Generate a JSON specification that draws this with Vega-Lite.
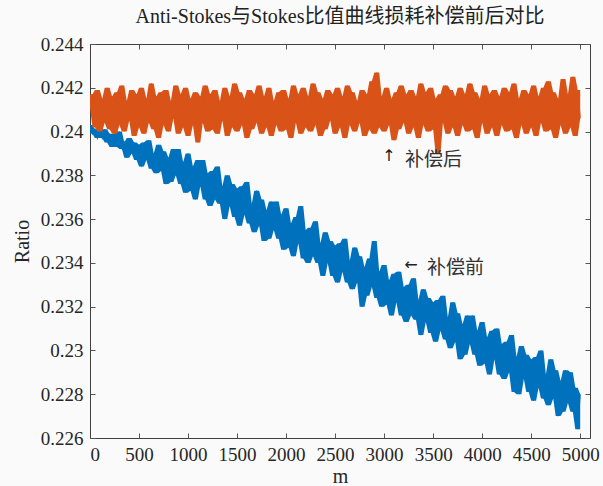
{
"$schema":"https://vega.github.io/schema/vega-lite/v6.json",
"width":500,"height":394,
"autosize":{"type":"none"},
"padding":{"left":90,"top":44,"right":13,"bottom":48},
"background":"#fafafa",
"title":{"text":"Anti-Stokes与Stokes比值曲线损耗补偿前后对比","font":"Liberation Serif, Noto Sans CJK SC","fontSize":20,"fontWeight":"normal","color":"#222222","offset":8,"anchor":"middle"},
"config":{"view":{"stroke":null},"axis":{"grid":false,"domainColor":"#404040","tickColor":"#555555","domainWidth":1,"tickWidth":1,"tickSize":-5,"labelPadding":12,"labelFont":"Liberation Serif","labelFontSize":19,"labelColor":"#262626","titleFont":"Liberation Serif","titleFontSize":20,"titleFontWeight":"normal","titleColor":"#262626"}},
"datasets":{
"s":[
{"m":0,"a":0.2411,"b":0.2403},{"m":25,"a":0.2417,"b":0.2399},{"m":50,"a":0.2402,"b":0.2401},{"m":75,"a":0.2419,"b":0.2397},{"m":100,"a":0.24,"b":0.2401},
{"m":125,"a":0.2415,"b":0.2397},{"m":150,"a":0.2404,"b":0.2401},{"m":175,"a":0.242,"b":0.2395},{"m":200,"a":0.2401,"b":0.2399},{"m":225,"a":0.2416,"b":0.2393},
{"m":250,"a":0.2399,"b":0.2399},{"m":275,"a":0.2418,"b":0.2393},{"m":300,"a":0.2403,"b":0.24},{"m":325,"a":0.2421,"b":0.2392},{"m":350,"a":0.24,"b":0.2395},
{"m":375,"a":0.2414,"b":0.2388},{"m":400,"a":0.2405,"b":0.2397},{"m":425,"a":0.2419,"b":0.239},{"m":450,"a":0.2398,"b":0.2395},{"m":475,"a":0.2417,"b":0.2387},
{"m":500,"a":0.2402,"b":0.2394},{"m":525,"a":0.242,"b":0.2384},{"m":550,"a":0.2399,"b":0.2395},{"m":575,"a":0.2415,"b":0.2387},{"m":600,"a":0.2404,"b":0.2396},
{"m":625,"a":0.2422,"b":0.2383},{"m":650,"a":0.2401,"b":0.239},{"m":675,"a":0.2416,"b":0.2381},{"m":700,"a":0.2397,"b":0.2394},{"m":725,"a":0.2418,"b":0.2382},
{"m":750,"a":0.2403,"b":0.2391},{"m":775,"a":0.2419,"b":0.2376},{"m":800,"a":0.24,"b":0.2388},{"m":825,"a":0.2414,"b":0.2377},{"m":850,"a":0.2406,"b":0.2392},
{"m":875,"a":0.2421,"b":0.238},{"m":900,"a":0.2399,"b":0.2392},{"m":925,"a":0.2417,"b":0.2376},{"m":950,"a":0.2402,"b":0.2386},{"m":975,"a":0.242,"b":0.2372},
{"m":1000,"a":0.2398,"b":0.239},{"m":1025,"a":0.2415,"b":0.2373},{"m":1050,"a":0.2403,"b":0.2384},{"m":1075,"a":0.2418,"b":0.2369},{"m":1100,"a":0.2395,"b":0.2387},
{"m":1125,"a":0.2416,"b":0.2375},{"m":1150,"a":0.2404,"b":0.2387},{"m":1175,"a":0.2421,"b":0.2369},{"m":1200,"a":0.24,"b":0.2381},{"m":1225,"a":0.2417,"b":0.2366},
{"m":1250,"a":0.2401,"b":0.2382},{"m":1275,"a":0.2419,"b":0.2369},{"m":1300,"a":0.2399,"b":0.2384},{"m":1325,"a":0.2414,"b":0.2367},{"m":1350,"a":0.2405,"b":0.2375},
{"m":1375,"a":0.242,"b":0.236},{"m":1400,"a":0.2398,"b":0.238},{"m":1425,"a":0.2416,"b":0.2366},{"m":1450,"a":0.2402,"b":0.2376},{"m":1475,"a":0.2422,"b":0.2361},
{"m":1500,"a":0.24,"b":0.2374},{"m":1525,"a":0.2418,"b":0.2357},{"m":1550,"a":0.2403,"b":0.2375},{"m":1575,"a":0.2415,"b":0.2362},{"m":1600,"a":0.2397,"b":0.2377},
{"m":1625,"a":0.2419,"b":0.2358},{"m":1650,"a":0.2401,"b":0.2367},{"m":1675,"a":0.2417,"b":0.2354},{"m":1700,"a":0.2404,"b":0.2373},{"m":1725,"a":0.2421,"b":0.2357},
{"m":1750,"a":0.2399,"b":0.2369},{"m":1775,"a":0.2416,"b":0.235},{"m":1800,"a":0.2402,"b":0.2364},{"m":1825,"a":0.242,"b":0.2351},{"m":1850,"a":0.2398,"b":0.2368},
{"m":1875,"a":0.2414,"b":0.2355},{"m":1900,"a":0.2403,"b":0.2368},{"m":1925,"a":0.2418,"b":0.2351},{"m":1950,"a":0.24,"b":0.2362},{"m":1975,"a":0.2419,"b":0.2346},
{"m":2000,"a":0.2401,"b":0.2365},{"m":2025,"a":0.2415,"b":0.2347},{"m":2050,"a":0.2397,"b":0.2358},{"m":2075,"a":0.2421,"b":0.2343},{"m":2100,"a":0.2404,"b":0.2361},
{"m":2125,"a":0.2417,"b":0.2349},{"m":2150,"a":0.2399,"b":0.2366},{"m":2175,"a":0.242,"b":0.2342},{"m":2200,"a":0.2402,"b":0.2355},{"m":2225,"a":0.2416,"b":0.234},
{"m":2250,"a":0.24,"b":0.2356},{"m":2275,"a":0.2422,"b":0.2343},{"m":2300,"a":0.2403,"b":0.2359},{"m":2325,"a":0.2418,"b":0.234},{"m":2350,"a":0.2398,"b":0.2349},
{"m":2375,"a":0.2415,"b":0.2334},{"m":2400,"a":0.2401,"b":0.2354},{"m":2425,"a":0.2419,"b":0.234},{"m":2450,"a":0.2405,"b":0.235},{"m":2475,"a":0.2417,"b":0.2334},
{"m":2500,"a":0.2399,"b":0.2348},{"m":2525,"a":0.242,"b":0.2331},{"m":2550,"a":0.2402,"b":0.2349},{"m":2575,"a":0.2416,"b":0.2336},{"m":2600,"a":0.2397,"b":0.2351},
{"m":2625,"a":0.2421,"b":0.2331},{"m":2650,"a":0.2403,"b":0.2341},{"m":2675,"a":0.2418,"b":0.2328},{"m":2700,"a":0.24,"b":0.2347},{"m":2725,"a":0.2414,"b":0.2331},
{"m":2750,"a":0.2404,"b":0.2343},{"m":2775,"a":0.2419,"b":0.232},{"m":2800,"a":0.2398,"b":0.2338},{"m":2825,"a":0.2417,"b":0.2325},{"m":2850,"a":0.2401,"b":0.2342},
{"m":2875,"a":0.2423,"b":0.2329},{"m":2900,"a":0.2399,"b":0.235},{"m":2925,"a":0.2427,"b":0.2324},{"m":2950,"a":0.2402,"b":0.2336},{"m":2975,"a":0.2416,"b":0.232},
{"m":3000,"a":0.24,"b":0.2339},{"m":3025,"a":0.242,"b":0.2321},{"m":3050,"a":0.2403,"b":0.2332},{"m":3075,"a":0.2415,"b":0.2316},{"m":3100,"a":0.2396,"b":0.2335},
{"m":3125,"a":0.2418,"b":0.2322},{"m":3150,"a":0.2401,"b":0.2336},{"m":3175,"a":0.2421,"b":0.2316},{"m":3200,"a":0.2404,"b":0.2329},{"m":3225,"a":0.2417,"b":0.2313},
{"m":3250,"a":0.2399,"b":0.233},{"m":3275,"a":0.2419,"b":0.2316},{"m":3300,"a":0.2402,"b":0.2333},{"m":3325,"a":0.2416,"b":0.2314},{"m":3350,"a":0.2397,"b":0.2323},
{"m":3375,"a":0.2422,"b":0.2307},{"m":3400,"a":0.2403,"b":0.2328},{"m":3425,"a":0.2418,"b":0.2313},{"m":3450,"a":0.24,"b":0.2324},{"m":3475,"a":0.242,"b":0.2308},
{"m":3500,"a":0.2401,"b":0.2322},{"m":3525,"a":0.2415,"b":0.2304},{"m":3550,"a":0.239,"b":0.2323},{"m":3575,"a":0.2417,"b":0.2309},{"m":3600,"a":0.2404,"b":0.2325},
{"m":3625,"a":0.2421,"b":0.2305},{"m":3650,"a":0.2399,"b":0.2315},{"m":3675,"a":0.2419,"b":0.2301},{"m":3700,"a":0.2402,"b":0.2322},{"m":3725,"a":0.2416,"b":0.2304},
{"m":3750,"a":0.2398,"b":0.2317},{"m":3775,"a":0.242,"b":0.2296},{"m":3800,"a":0.2403,"b":0.2312},{"m":3825,"a":0.2417,"b":0.2298},{"m":3850,"a":0.24,"b":0.2316},
{"m":3875,"a":0.2422,"b":0.2303},{"m":3900,"a":0.2401,"b":0.2316},{"m":3925,"a":0.2418,"b":0.2298},{"m":3950,"a":0.2397,"b":0.2309},{"m":3975,"a":0.2415,"b":0.2293},
{"m":4000,"a":0.2404,"b":0.2313},{"m":4025,"a":0.2421,"b":0.2294},{"m":4050,"a":0.2399,"b":0.2306},{"m":4075,"a":0.2417,"b":0.2289},{"m":4100,"a":0.2402,"b":0.2309},
{"m":4125,"a":0.2419,"b":0.2296},{"m":4150,"a":0.2398,"b":0.231},{"m":4175,"a":0.2416,"b":0.2289},{"m":4200,"a":0.2403,"b":0.2303},{"m":4225,"a":0.242,"b":0.2287},
{"m":4250,"a":0.24,"b":0.2304},{"m":4275,"a":0.2418,"b":0.229},{"m":4300,"a":0.2401,"b":0.2307},{"m":4325,"a":0.2422,"b":0.2281},{"m":4350,"a":0.2397,"b":0.2297},
{"m":4375,"a":0.2415,"b":0.228},{"m":4400,"a":0.2403,"b":0.2302},{"m":4425,"a":0.2419,"b":0.2287},{"m":4450,"a":0.2399,"b":0.2298},{"m":4475,"a":0.2417,"b":0.2281},
{"m":4500,"a":0.2402,"b":0.2296},{"m":4525,"a":0.2421,"b":0.2277},{"m":4550,"a":0.2398,"b":0.2297},{"m":4575,"a":0.2416,"b":0.2283},{"m":4600,"a":0.2404,"b":0.23},
{"m":4625,"a":0.242,"b":0.2278},{"m":4650,"a":0.24,"b":0.2289},{"m":4675,"a":0.2423,"b":0.2275},{"m":4700,"a":0.2401,"b":0.2296},{"m":4725,"a":0.2418,"b":0.2278},
{"m":4750,"a":0.2397,"b":0.2291},{"m":4775,"a":0.2415,"b":0.227},{"m":4800,"a":0.2403,"b":0.2286},{"m":4825,"a":0.2424,"b":0.2272},{"m":4850,"a":0.2399,"b":0.2291},
{"m":4875,"a":0.2417,"b":0.2276},{"m":4900,"a":0.2402,"b":0.229},{"m":4925,"a":0.2425,"b":0.2272},{"m":4950,"a":0.2398,"b":0.2283},{"m":4975,"a":0.2419,"b":0.2264},
{"m":5000,"a":0.2406,"b":0.228}
],
"arrows":[{"m":3050,"v":0.2389,"t":"↑"},{"m":3274,"v":0.2339,"t":"←"}],
"labels":[{"m":3213,"v":0.2387,"t":"补偿后"},{"m":3437,"v":0.23377,"t":"补偿前"}]
},
"layer":[
{"data":{"name":"s"},
 "transform":[{"window":[{"op":"min","field":"b","as":"blo"},{"op":"max","field":"b","as":"bhi"}],"frame":[-1,1],"sort":[{"field":"m"}]}],
 "mark":{"type":"area","color":"#0072BD","opacity":1,"clip":true},
 "encoding":{
  "x":{"field":"m","type":"quantitative","scale":{"domain":[0,5100],"nice":false,"zero":false},"axis":{"orient":"bottom","title":"m","format":"d","values":[0,500,1000,1500,2000,2500,3000,3500,4000,4500,5000],"titlePadding":2}},
  "y":{"field":"blo","type":"quantitative","scale":{"domain":[0.226,0.244],"nice":false,"zero":false},"axis":{"orient":"left","title":"Ratio","format":"~g","values":[0.226,0.228,0.23,0.232,0.234,0.236,0.238,0.24,0.242,0.244],"titlePadding":8}},
  "y2":{"field":"bhi"}}},
{"data":{"name":"s"},"mark":{"type":"line","color":"#0072BD","strokeWidth":1.2,"clip":true},
 "encoding":{
  "x":{"field":"m","type":"quantitative","axis":null},
  "y":{"field":"b","type":"quantitative","axis":null}}},
{"data":{"name":"s"},
 "transform":[{"window":[{"op":"min","field":"a","as":"alo"},{"op":"max","field":"a","as":"ahi"}],"frame":[-1,1],"sort":[{"field":"m"}]}],
 "mark":{"type":"area","color":"#D95319","opacity":1,"clip":true},
 "encoding":{
  "x":{"field":"m","type":"quantitative","axis":{"orient":"top","labels":false,"title":null,"values":[0,500,1000,1500,2000,2500,3000,3500,4000,4500,5000]}},
  "y":{"field":"alo","type":"quantitative","axis":{"orient":"right","labels":false,"title":null,"values":[0.226,0.228,0.23,0.232,0.234,0.236,0.238,0.24,0.242,0.244]}},
  "y2":{"field":"ahi"}}},
{"data":{"name":"s"},"mark":{"type":"line","color":"#D95319","strokeWidth":1.2,"clip":true},
 "encoding":{
  "x":{"field":"m","type":"quantitative","axis":null},
  "y":{"field":"a","type":"quantitative","axis":null}}},
{"data":{"name":"arrows"},"mark":{"type":"text","align":"center","baseline":"middle","font":"DejaVu Sans","fontSize":16,"color":"#222222"},
 "encoding":{"x":{"field":"m","type":"quantitative","axis":null},"y":{"field":"v","type":"quantitative","axis":null},"text":{"field":"t"}}},
{"data":{"name":"labels"},"mark":{"type":"text","align":"left","baseline":"middle","font":"Noto Sans CJK SC","fontSize":19,"color":"#333333"},
 "encoding":{"x":{"field":"m","type":"quantitative","axis":null},"y":{"field":"v","type":"quantitative","axis":null},"text":{"field":"t"}}}
],
"resolve":{"axis":{"x":"independent","y":"independent"}}
}
